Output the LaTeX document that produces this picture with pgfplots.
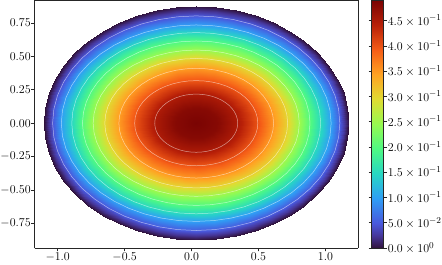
\documentclass[border=0pt]{standalone}
\usepackage{pgfplots}
\pgfplotsset{compat=1.18}
\begin{filecontents*}[overwrite]{surf.dat}
a ax by z
0 0 0 0.49
7.5 0 0 0.49
15 0 0 0.49
22.5 0 0 0.49
30 0 0 0.49
37.5 0 0 0.49
45 0 0 0.49
52.5 0 0 0.49
60 0 0 0.49
67.5 0 0 0.49
75 0 0 0.49
82.5 0 0 0.49
90 0 0 0.49
97.5 0 0 0.49
105 0 0 0.49
112.5 0 0 0.49
120 0 0 0.49
127.5 0 0 0.49
135 0 0 0.49
142.5 0 0 0.49
150 0 0 0.49
157.5 0 0 0.49
165 0 0 0.49
172.5 0 0 0.49
180 0 0 0.49
187.5 0 0 0.49
195 0 0 0.49
202.5 0 0 0.49
210 0 0 0.49
217.5 0 0 0.49
225 0 0 0.49
232.5 0 0 0.49
240 0 0 0.49
247.5 0 0 0.49
255 0 0 0.49
262.5 0 0 0.49
270 0 0 0.49
277.5 0 0 0.49
285 0 0 0.49
292.5 0 0 0.49
300 0 0 0.49
307.5 0 0 0.49
315 0 0 0.49
322.5 0 0 0.49
330 0 0 0.49
337.5 0 0 0.49
345 0 0 0.49
352.5 0 0 0.49
360 0 0 0.49

0 0.16 0.112 0.48
7.5 0.16 0.112 0.48
15 0.16 0.112 0.48
22.5 0.16 0.112 0.48
30 0.16 0.112 0.48
37.5 0.16 0.112 0.48
45 0.16 0.112 0.48
52.5 0.16 0.112 0.48
60 0.16 0.112 0.48
67.5 0.16 0.112 0.48
75 0.16 0.112 0.48
82.5 0.16 0.112 0.48
90 0.16 0.112 0.48
97.5 0.16 0.112 0.48
105 0.16 0.112 0.48
112.5 0.16 0.112 0.48
120 0.16 0.112 0.48
127.5 0.16 0.112 0.48
135 0.16 0.112 0.48
142.5 0.16 0.112 0.48
150 0.16 0.112 0.48
157.5 0.16 0.112 0.48
165 0.16 0.112 0.48
172.5 0.16 0.112 0.48
180 0.16 0.112 0.48
187.5 0.16 0.112 0.48
195 0.16 0.112 0.48
202.5 0.16 0.112 0.48
210 0.16 0.112 0.48
217.5 0.16 0.112 0.48
225 0.16 0.112 0.48
232.5 0.16 0.112 0.48
240 0.16 0.112 0.48
247.5 0.16 0.112 0.48
255 0.16 0.112 0.48
262.5 0.16 0.112 0.48
270 0.16 0.112 0.48
277.5 0.16 0.112 0.48
285 0.16 0.112 0.48
292.5 0.16 0.112 0.48
300 0.16 0.112 0.48
307.5 0.16 0.112 0.48
315 0.16 0.112 0.48
322.5 0.16 0.112 0.48
330 0.16 0.112 0.48
337.5 0.16 0.112 0.48
345 0.16 0.112 0.48
352.5 0.16 0.112 0.48
360 0.16 0.112 0.48

0 0.31 0.218 0.45
7.5 0.31 0.218 0.45
15 0.31 0.218 0.45
22.5 0.31 0.218 0.45
30 0.31 0.218 0.45
37.5 0.31 0.218 0.45
45 0.31 0.218 0.45
52.5 0.31 0.218 0.45
60 0.31 0.218 0.45
67.5 0.31 0.218 0.45
75 0.31 0.218 0.45
82.5 0.31 0.218 0.45
90 0.31 0.218 0.45
97.5 0.31 0.218 0.45
105 0.31 0.218 0.45
112.5 0.31 0.218 0.45
120 0.31 0.218 0.45
127.5 0.31 0.218 0.45
135 0.31 0.218 0.45
142.5 0.31 0.218 0.45
150 0.31 0.218 0.45
157.5 0.31 0.218 0.45
165 0.31 0.218 0.45
172.5 0.31 0.218 0.45
180 0.31 0.218 0.45
187.5 0.31 0.218 0.45
195 0.31 0.218 0.45
202.5 0.31 0.218 0.45
210 0.31 0.218 0.45
217.5 0.31 0.218 0.45
225 0.31 0.218 0.45
232.5 0.31 0.218 0.45
240 0.31 0.218 0.45
247.5 0.31 0.218 0.45
255 0.31 0.218 0.45
262.5 0.31 0.218 0.45
270 0.31 0.218 0.45
277.5 0.31 0.218 0.45
285 0.31 0.218 0.45
292.5 0.31 0.218 0.45
300 0.31 0.218 0.45
307.5 0.31 0.218 0.45
315 0.31 0.218 0.45
322.5 0.31 0.218 0.45
330 0.31 0.218 0.45
337.5 0.31 0.218 0.45
345 0.31 0.218 0.45
352.5 0.31 0.218 0.45
360 0.31 0.218 0.45

0 0.46 0.319 0.40
7.5 0.46 0.319 0.40
15 0.46 0.319 0.40
22.5 0.46 0.319 0.40
30 0.46 0.319 0.40
37.5 0.46 0.319 0.40
45 0.46 0.319 0.40
52.5 0.46 0.319 0.40
60 0.46 0.319 0.40
67.5 0.46 0.319 0.40
75 0.46 0.319 0.40
82.5 0.46 0.319 0.40
90 0.46 0.319 0.40
97.5 0.46 0.319 0.40
105 0.46 0.319 0.40
112.5 0.46 0.319 0.40
120 0.46 0.319 0.40
127.5 0.46 0.319 0.40
135 0.46 0.319 0.40
142.5 0.46 0.319 0.40
150 0.46 0.319 0.40
157.5 0.46 0.319 0.40
165 0.46 0.319 0.40
172.5 0.46 0.319 0.40
180 0.46 0.319 0.40
187.5 0.46 0.319 0.40
195 0.46 0.319 0.40
202.5 0.46 0.319 0.40
210 0.46 0.319 0.40
217.5 0.46 0.319 0.40
225 0.46 0.319 0.40
232.5 0.46 0.319 0.40
240 0.46 0.319 0.40
247.5 0.46 0.319 0.40
255 0.46 0.319 0.40
262.5 0.46 0.319 0.40
270 0.46 0.319 0.40
277.5 0.46 0.319 0.40
285 0.46 0.319 0.40
292.5 0.46 0.319 0.40
300 0.46 0.319 0.40
307.5 0.46 0.319 0.40
315 0.46 0.319 0.40
322.5 0.46 0.319 0.40
330 0.46 0.319 0.40
337.5 0.46 0.319 0.40
345 0.46 0.319 0.40
352.5 0.46 0.319 0.40
360 0.46 0.319 0.40

0 0.578 0.411 0.35
7.5 0.578 0.411 0.35
15 0.578 0.411 0.35
22.5 0.578 0.411 0.35
30 0.578 0.411 0.35
37.5 0.578 0.411 0.35
45 0.578 0.411 0.35
52.5 0.578 0.411 0.35
60 0.578 0.411 0.35
67.5 0.578 0.411 0.35
75 0.578 0.411 0.35
82.5 0.578 0.411 0.35
90 0.578 0.411 0.35
97.5 0.578 0.411 0.35
105 0.578 0.411 0.35
112.5 0.578 0.411 0.35
120 0.578 0.411 0.35
127.5 0.578 0.411 0.35
135 0.578 0.411 0.35
142.5 0.578 0.411 0.35
150 0.578 0.411 0.35
157.5 0.578 0.411 0.35
165 0.578 0.411 0.35
172.5 0.578 0.411 0.35
180 0.578 0.411 0.35
187.5 0.578 0.411 0.35
195 0.578 0.411 0.35
202.5 0.578 0.411 0.35
210 0.578 0.411 0.35
217.5 0.578 0.411 0.35
225 0.578 0.411 0.35
232.5 0.578 0.411 0.35
240 0.578 0.411 0.35
247.5 0.578 0.411 0.35
255 0.578 0.411 0.35
262.5 0.578 0.411 0.35
270 0.578 0.411 0.35
277.5 0.578 0.411 0.35
285 0.578 0.411 0.35
292.5 0.578 0.411 0.35
300 0.578 0.411 0.35
307.5 0.578 0.411 0.35
315 0.578 0.411 0.35
322.5 0.578 0.411 0.35
330 0.578 0.411 0.35
337.5 0.578 0.411 0.35
345 0.578 0.411 0.35
352.5 0.578 0.411 0.35
360 0.578 0.411 0.35

0 0.683 0.485 0.30
7.5 0.683 0.485 0.30
15 0.683 0.485 0.30
22.5 0.683 0.485 0.30
30 0.683 0.485 0.30
37.5 0.683 0.485 0.30
45 0.683 0.485 0.30
52.5 0.683 0.485 0.30
60 0.683 0.485 0.30
67.5 0.683 0.485 0.30
75 0.683 0.485 0.30
82.5 0.683 0.485 0.30
90 0.683 0.485 0.30
97.5 0.683 0.485 0.30
105 0.683 0.485 0.30
112.5 0.683 0.485 0.30
120 0.683 0.485 0.30
127.5 0.683 0.485 0.30
135 0.683 0.485 0.30
142.5 0.683 0.485 0.30
150 0.683 0.485 0.30
157.5 0.683 0.485 0.30
165 0.683 0.485 0.30
172.5 0.683 0.485 0.30
180 0.683 0.485 0.30
187.5 0.683 0.485 0.30
195 0.683 0.485 0.30
202.5 0.683 0.485 0.30
210 0.683 0.485 0.30
217.5 0.683 0.485 0.30
225 0.683 0.485 0.30
232.5 0.683 0.485 0.30
240 0.683 0.485 0.30
247.5 0.683 0.485 0.30
255 0.683 0.485 0.30
262.5 0.683 0.485 0.30
270 0.683 0.485 0.30
277.5 0.683 0.485 0.30
285 0.683 0.485 0.30
292.5 0.683 0.485 0.30
300 0.683 0.485 0.30
307.5 0.683 0.485 0.30
315 0.683 0.485 0.30
322.5 0.683 0.485 0.30
330 0.683 0.485 0.30
337.5 0.683 0.485 0.30
345 0.683 0.485 0.30
352.5 0.683 0.485 0.30
360 0.683 0.485 0.30

0 0.77 0.548 0.25
7.5 0.77 0.548 0.25
15 0.77 0.548 0.25
22.5 0.77 0.548 0.25
30 0.77 0.548 0.25
37.5 0.77 0.548 0.25
45 0.77 0.548 0.25
52.5 0.77 0.548 0.25
60 0.77 0.548 0.25
67.5 0.77 0.548 0.25
75 0.77 0.548 0.25
82.5 0.77 0.548 0.25
90 0.77 0.548 0.25
97.5 0.77 0.548 0.25
105 0.77 0.548 0.25
112.5 0.77 0.548 0.25
120 0.77 0.548 0.25
127.5 0.77 0.548 0.25
135 0.77 0.548 0.25
142.5 0.77 0.548 0.25
150 0.77 0.548 0.25
157.5 0.77 0.548 0.25
165 0.77 0.548 0.25
172.5 0.77 0.548 0.25
180 0.77 0.548 0.25
187.5 0.77 0.548 0.25
195 0.77 0.548 0.25
202.5 0.77 0.548 0.25
210 0.77 0.548 0.25
217.5 0.77 0.548 0.25
225 0.77 0.548 0.25
232.5 0.77 0.548 0.25
240 0.77 0.548 0.25
247.5 0.77 0.548 0.25
255 0.77 0.548 0.25
262.5 0.77 0.548 0.25
270 0.77 0.548 0.25
277.5 0.77 0.548 0.25
285 0.77 0.548 0.25
292.5 0.77 0.548 0.25
300 0.77 0.548 0.25
307.5 0.77 0.548 0.25
315 0.77 0.548 0.25
322.5 0.77 0.548 0.25
330 0.77 0.548 0.25
337.5 0.77 0.548 0.25
345 0.77 0.548 0.25
352.5 0.77 0.548 0.25
360 0.77 0.548 0.25

0 0.85 0.616 0.20
7.5 0.85 0.616 0.20
15 0.85 0.616 0.20
22.5 0.85 0.616 0.20
30 0.85 0.616 0.20
37.5 0.85 0.616 0.20
45 0.85 0.616 0.20
52.5 0.85 0.616 0.20
60 0.85 0.616 0.20
67.5 0.85 0.616 0.20
75 0.85 0.616 0.20
82.5 0.85 0.616 0.20
90 0.85 0.616 0.20
97.5 0.85 0.616 0.20
105 0.85 0.616 0.20
112.5 0.85 0.616 0.20
120 0.85 0.616 0.20
127.5 0.85 0.616 0.20
135 0.85 0.616 0.20
142.5 0.85 0.616 0.20
150 0.85 0.616 0.20
157.5 0.85 0.616 0.20
165 0.85 0.616 0.20
172.5 0.85 0.616 0.20
180 0.85 0.616 0.20
187.5 0.85 0.616 0.20
195 0.85 0.616 0.20
202.5 0.85 0.616 0.20
210 0.85 0.616 0.20
217.5 0.85 0.616 0.20
225 0.85 0.616 0.20
232.5 0.85 0.616 0.20
240 0.85 0.616 0.20
247.5 0.85 0.616 0.20
255 0.85 0.616 0.20
262.5 0.85 0.616 0.20
270 0.85 0.616 0.20
277.5 0.85 0.616 0.20
285 0.85 0.616 0.20
292.5 0.85 0.616 0.20
300 0.85 0.616 0.20
307.5 0.85 0.616 0.20
315 0.85 0.616 0.20
322.5 0.85 0.616 0.20
330 0.85 0.616 0.20
337.5 0.85 0.616 0.20
345 0.85 0.616 0.20
352.5 0.85 0.616 0.20
360 0.85 0.616 0.20

0 0.93 0.679 0.15
7.5 0.93 0.679 0.15
15 0.93 0.679 0.15
22.5 0.93 0.679 0.15
30 0.93 0.679 0.15
37.5 0.93 0.679 0.15
45 0.93 0.679 0.15
52.5 0.93 0.679 0.15
60 0.93 0.679 0.15
67.5 0.93 0.679 0.15
75 0.93 0.679 0.15
82.5 0.93 0.679 0.15
90 0.93 0.679 0.15
97.5 0.93 0.679 0.15
105 0.93 0.679 0.15
112.5 0.93 0.679 0.15
120 0.93 0.679 0.15
127.5 0.93 0.679 0.15
135 0.93 0.679 0.15
142.5 0.93 0.679 0.15
150 0.93 0.679 0.15
157.5 0.93 0.679 0.15
165 0.93 0.679 0.15
172.5 0.93 0.679 0.15
180 0.93 0.679 0.15
187.5 0.93 0.679 0.15
195 0.93 0.679 0.15
202.5 0.93 0.679 0.15
210 0.93 0.679 0.15
217.5 0.93 0.679 0.15
225 0.93 0.679 0.15
232.5 0.93 0.679 0.15
240 0.93 0.679 0.15
247.5 0.93 0.679 0.15
255 0.93 0.679 0.15
262.5 0.93 0.679 0.15
270 0.93 0.679 0.15
277.5 0.93 0.679 0.15
285 0.93 0.679 0.15
292.5 0.93 0.679 0.15
300 0.93 0.679 0.15
307.5 0.93 0.679 0.15
315 0.93 0.679 0.15
322.5 0.93 0.679 0.15
330 0.93 0.679 0.15
337.5 0.93 0.679 0.15
345 0.93 0.679 0.15
352.5 0.93 0.679 0.15
360 0.93 0.679 0.15

0 1.008 0.736 0.10
7.5 1.008 0.736 0.10
15 1.008 0.736 0.10
22.5 1.008 0.736 0.10
30 1.008 0.736 0.10
37.5 1.008 0.736 0.10
45 1.008 0.736 0.10
52.5 1.008 0.736 0.10
60 1.008 0.736 0.10
67.5 1.008 0.736 0.10
75 1.008 0.736 0.10
82.5 1.008 0.736 0.10
90 1.008 0.736 0.10
97.5 1.008 0.736 0.10
105 1.008 0.736 0.10
112.5 1.008 0.736 0.10
120 1.008 0.736 0.10
127.5 1.008 0.736 0.10
135 1.008 0.736 0.10
142.5 1.008 0.736 0.10
150 1.008 0.736 0.10
157.5 1.008 0.736 0.10
165 1.008 0.736 0.10
172.5 1.008 0.736 0.10
180 1.008 0.736 0.10
187.5 1.008 0.736 0.10
195 1.008 0.736 0.10
202.5 1.008 0.736 0.10
210 1.008 0.736 0.10
217.5 1.008 0.736 0.10
225 1.008 0.736 0.10
232.5 1.008 0.736 0.10
240 1.008 0.736 0.10
247.5 1.008 0.736 0.10
255 1.008 0.736 0.10
262.5 1.008 0.736 0.10
270 1.008 0.736 0.10
277.5 1.008 0.736 0.10
285 1.008 0.736 0.10
292.5 1.008 0.736 0.10
300 1.008 0.736 0.10
307.5 1.008 0.736 0.10
315 1.008 0.736 0.10
322.5 1.008 0.736 0.10
330 1.008 0.736 0.10
337.5 1.008 0.736 0.10
345 1.008 0.736 0.10
352.5 1.008 0.736 0.10
360 1.008 0.736 0.10

0 1.073 0.804 0.05
7.5 1.073 0.804 0.05
15 1.073 0.804 0.05
22.5 1.073 0.804 0.05
30 1.073 0.804 0.05
37.5 1.073 0.804 0.05
45 1.073 0.804 0.05
52.5 1.073 0.804 0.05
60 1.073 0.804 0.05
67.5 1.073 0.804 0.05
75 1.073 0.804 0.05
82.5 1.073 0.804 0.05
90 1.073 0.804 0.05
97.5 1.073 0.804 0.05
105 1.073 0.804 0.05
112.5 1.073 0.804 0.05
120 1.073 0.804 0.05
127.5 1.073 0.804 0.05
135 1.073 0.804 0.05
142.5 1.073 0.804 0.05
150 1.073 0.804 0.05
157.5 1.073 0.804 0.05
165 1.073 0.804 0.05
172.5 1.073 0.804 0.05
180 1.073 0.804 0.05
187.5 1.073 0.804 0.05
195 1.073 0.804 0.05
202.5 1.073 0.804 0.05
210 1.073 0.804 0.05
217.5 1.073 0.804 0.05
225 1.073 0.804 0.05
232.5 1.073 0.804 0.05
240 1.073 0.804 0.05
247.5 1.073 0.804 0.05
255 1.073 0.804 0.05
262.5 1.073 0.804 0.05
270 1.073 0.804 0.05
277.5 1.073 0.804 0.05
285 1.073 0.804 0.05
292.5 1.073 0.804 0.05
300 1.073 0.804 0.05
307.5 1.073 0.804 0.05
315 1.073 0.804 0.05
322.5 1.073 0.804 0.05
330 1.073 0.804 0.05
337.5 1.073 0.804 0.05
345 1.073 0.804 0.05
352.5 1.073 0.804 0.05
360 1.073 0.804 0.05

0 1.14 0.875 0.0
7.5 1.14 0.875 0.0
15 1.14 0.875 0.0
22.5 1.14 0.875 0.0
30 1.14 0.875 0.0
37.5 1.14 0.875 0.0
45 1.14 0.875 0.0
52.5 1.14 0.875 0.0
60 1.14 0.875 0.0
67.5 1.14 0.875 0.0
75 1.14 0.875 0.0
82.5 1.14 0.875 0.0
90 1.14 0.875 0.0
97.5 1.14 0.875 0.0
105 1.14 0.875 0.0
112.5 1.14 0.875 0.0
120 1.14 0.875 0.0
127.5 1.14 0.875 0.0
135 1.14 0.875 0.0
142.5 1.14 0.875 0.0
150 1.14 0.875 0.0
157.5 1.14 0.875 0.0
165 1.14 0.875 0.0
172.5 1.14 0.875 0.0
180 1.14 0.875 0.0
187.5 1.14 0.875 0.0
195 1.14 0.875 0.0
202.5 1.14 0.875 0.0
210 1.14 0.875 0.0
217.5 1.14 0.875 0.0
225 1.14 0.875 0.0
232.5 1.14 0.875 0.0
240 1.14 0.875 0.0
247.5 1.14 0.875 0.0
255 1.14 0.875 0.0
262.5 1.14 0.875 0.0
270 1.14 0.875 0.0
277.5 1.14 0.875 0.0
285 1.14 0.875 0.0
292.5 1.14 0.875 0.0
300 1.14 0.875 0.0
307.5 1.14 0.875 0.0
315 1.14 0.875 0.0
322.5 1.14 0.875 0.0
330 1.14 0.875 0.0
337.5 1.14 0.875 0.0
345 1.14 0.875 0.0
352.5 1.14 0.875 0.0
360 1.14 0.875 0.0
\end{filecontents*}
\pgfplotsset{colormap={turbo}{
rgb255(0cm)=(48,18,59);
rgb255(1cm)=(70,54,153);
rgb255(2cm)=(73,88,221);
rgb255(4cm)=(47,158,245);
rgb255(6cm)=(39,215,195);
rgb255(8cm)=(78,249,131);
rgb255(10cm)=(150,250,80);
rgb255(12cm)=(224,220,50);
rgb255(14cm)=(255,163,35);
rgb255(16cm)=(245,93,23);
rgb255(18cm)=(184,32,8);
rgb255(20cm)=(122,4,3)
}}
\begin{document}
\begin{tikzpicture}
\begin{axis}[
  view={0}{90},
  scale only axis, width=324pt, height=248pt,
  xmin=-1.172, xmax=1.246, ymin=-0.936, ymax=0.92,
  xtick={-1,-0.5,0,0.5,1},
  ytick={-0.75,-0.5,-0.25,0,0.25,0.5,0.75},
  xticklabel style={/pgf/number format/fixed, /pgf/number format/fixed zerofill, /pgf/number format/precision=1, inner ysep=1pt, text depth=3pt},
  yticklabel style={/pgf/number format/fixed, /pgf/number format/fixed zerofill, /pgf/number format/precision=2, inner xsep=0.5pt},
  tick label style={font=\fontsize{12.8}{15}\selectfont},
  tick align=outside, xtick pos=left, ytick pos=left,
  major tick length=3.3pt,
  axis line style={black!85, line width=0.8pt},
  tick style={black!85, line width=0.8pt},
  axis on top,
  colormap name=turbo,
  point meta min=0, point meta max=0.49,
  colorbar,
  colorbar style={
    at={(parent axis.north east)}, anchor=north west, xshift=5pt,
    width=12pt,
    ytick={0,0.05,0.1,0.15,0.2,0.25,0.3,0.35,0.4,0.45},
    yticklabels={$0.0\times10^{0}$,$5.0\times10^{-2}$,$1.0\times10^{-1}$,$1.5\times10^{-1}$,$2.0\times10^{-1}$,$2.5\times10^{-1}$,$3.0\times10^{-1}$,$3.5\times10^{-1}$,$4.0\times10^{-1}$,$4.5\times10^{-1}$},
    yticklabel style={font=\fontsize{12.8}{15}\selectfont, inner xsep=0.5pt},
    tick align=outside, major tick length=3.3pt,
    axis line style={black!85, line width=0.8pt},
    tick style={black!85, line width=0.8pt},
  },
]
\addplot3[surf, shader=interp]
  table[x expr={0.035+\thisrow{ax}*cos(\thisrow{a})}, y expr={\thisrow{by}*sin(\thisrow{a})}, z=z] {surf.dat};
\addplot3[white, opacity=0.55, line width=0.5pt, empty line=jump, unbounded coords=jump,
  restrict expr to domain={\thisrow{z}}{0.04:0.46}]
  table[x expr={0.035+\thisrow{ax}*cos(\thisrow{a})}, y expr={\thisrow{by}*sin(\thisrow{a})}, z=z] {surf.dat};
\end{axis}
\end{tikzpicture}
\end{document}
